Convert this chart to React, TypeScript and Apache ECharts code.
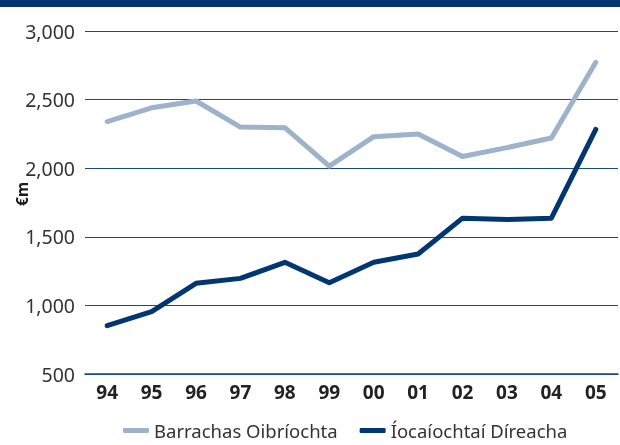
import React, { useEffect, useRef } from "react";
import * as echarts from "echarts";

const categories = ["94", "95", "96", "97", "98", "99", "00", "01", "02", "03", "04", "05"];
const barrachas = [2340, 2440, 2490, 2300, 2295, 2015, 2230, 2250, 2085, 2150, 2220, 2772];
const iocaiochtai = [852, 954, 1161, 1197, 1314, 1165, 1315, 1375, 1636, 1626, 1636, 2283];
const seriesNames = ["Barrachas Oibríochta", "Íocaíochtaí Díreacha"];
const yTicks = { min: 500, max: 3000, interval: 500 };

const DARK = "#003671";
const LIGHT = "#9db2cb";
const FONT = "Noto Sans";

export default function App() {
  const ref = useRef<HTMLDivElement>(null);
  useEffect(() => {
    if (!ref.current) return;
    const chart = echarts.init(ref.current, undefined, { renderer: "svg" });
    chart.setOption({
      animation: false,
      textStyle: { fontFamily: FONT },
      grid: { left: 85, right: 2, top: 31, bottom: 71, containLabel: false },
      graphic: [
        { type: "rect", left: 0, top: 0, shape: { width: 620, height: 7 }, style: { fill: DARK } },
        {
          type: "text",
          x: 22,
          y: 194,
          rotation: Math.PI / 2,
          style: {
            text: "€m",
            font: `bold 15.5px "${FONT}"`,
            fill: "#1a1a1a",
            align: "center",
            verticalAlign: "middle",
          },
        },
      ],
      legend: {
        bottom: 0,
        left: 118,
        icon: "roundRect",
        itemWidth: 26,
        itemHeight: 5,
        itemGap: 22,
        textStyle: { fontSize: 18.5, color: "#333", fontFamily: FONT },
        data: seriesNames,
      },
      xAxis: {
        type: "category",
        data: categories,
        boundaryGap: true,
        axisLine: { lineStyle: { color: "#1d4a7c", width: 1.5 } },
        axisTick: { inside: true, length: 8, lineStyle: { color: "#1d4a7c" } },
        axisLabel: { fontSize: 19, fontWeight: "bold", color: "#222", margin: 8, fontFamily: FONT },
      },
      yAxis: {
        type: "value",
        min: yTicks.min,
        max: yTicks.max,
        interval: yTicks.interval,
        axisLine: { show: false },
        axisTick: { show: false },
        axisLabel: {
          fontSize: 19.5,
          color: "#333",
          margin: 10,
          fontFamily: FONT,
          formatter: (v: number) => v.toLocaleString("en-US"),
        },
        splitLine: { lineStyle: { color: "#1d4a7c", width: 1 } },
      },
      series: [
        {
          name: seriesNames[0],
          type: "line",
          data: barrachas,
          symbol: "none",
          lineStyle: { color: LIGHT, width: 5, cap: "round", join: "round" },
          itemStyle: { color: LIGHT },
        },
        {
          name: seriesNames[1],
          type: "line",
          data: iocaiochtai,
          symbol: "none",
          lineStyle: { color: DARK, width: 5, cap: "round", join: "round" },
          itemStyle: { color: DARK },
        },
      ],
    });
    return () => chart.dispose();
  }, []);
  return <div ref={ref} style={{ width: 620, height: 445, position: "fixed", left: 0, top: 0 }} />;
}
